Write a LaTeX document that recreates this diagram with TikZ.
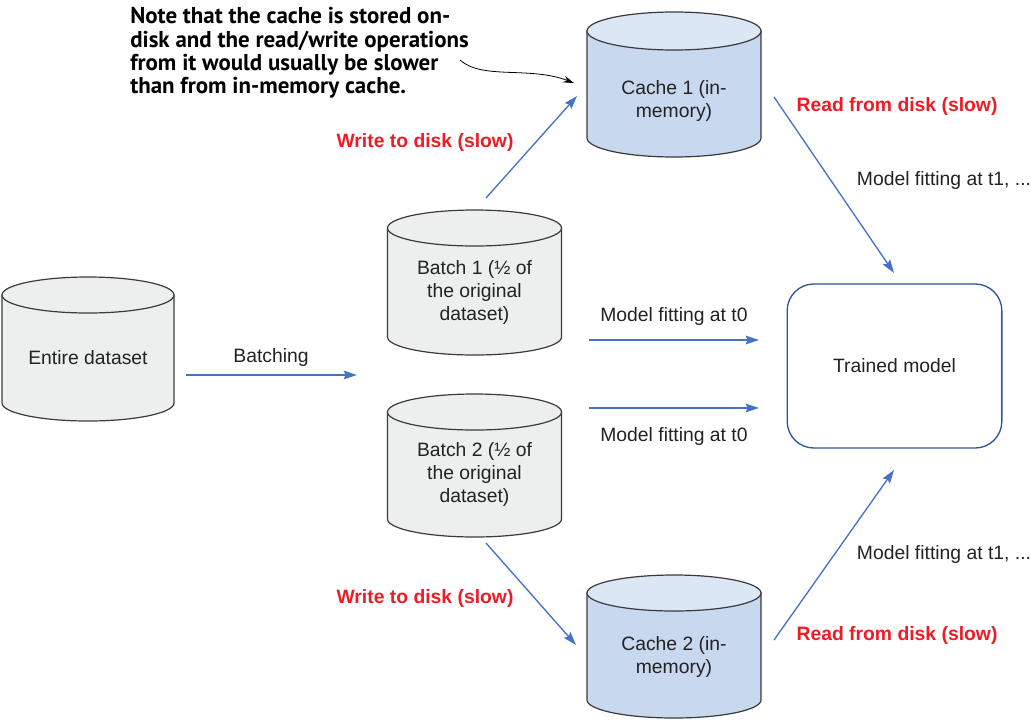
\documentclass[tikz,border=0pt]{standalone}
\usepackage{fontspec}
\setmainfont{Liberation Sans}
\newfontfamily\notefont{PT Sans}
\usetikzlibrary{arrows.meta}
\definecolor{cylgrey}{HTML}{EDEFEE}
\definecolor{cylblue}{HTML}{C8D8EE}
\definecolor{cyltop}{HTML}{DCE7F6}
\definecolor{cylline}{HTML}{3A3A3A}
\definecolor{arrblue}{HTML}{4472C4}
\definecolor{boxblue}{HTML}{2E5597}
\definecolor{warnred}{HTML}{ED1C24}
\definecolor{txt}{HTML}{222222}
\newcommand\cylshape[7]{%
  \filldraw[cylstroke, fill=#6] (#1-#4,#2) -- (#1-#4,#3)
    .. controls (#1-#4,#3+0.5523*#5) and (#1-0.5523*#4,#3+#5) .. (#1,#3+#5)
    .. controls (#1+0.5523*#4,#3+#5) and (#1+#4,#3+0.5523*#5) .. (#1+#4,#3)
    -- (#1+#4,#2) -- cycle;
  \filldraw[cylstroke, fill=#7] (#1,#2) ellipse[x radius=#4*0.75pt, y radius=#5*0.75pt];
}
\begin{document}
\begin{tikzpicture}[x=0.75pt,y=-0.75pt,
  cylstroke/.style={draw=cylline, line width=0.9pt},
  body/.style={font=\fontsize{14.5}{17.25}\selectfont, text=txt, align=center, inner sep=0pt},
  redlbl/.style={font=\bfseries\fontsize{14.5}{17.25}\selectfont, text=warnred, inner sep=0pt},
  flow/.style={draw=arrblue, line width=1pt, -{Stealth[length=10pt,width=6.5pt,inset=1.5pt]}},
  notearrow/.style={draw=black, line width=0.6pt, -{Stealth[length=8pt,width=5pt]}}
]
\useasboundingbox (0,0) rectangle (1031,722);

% cylinders
\cylshape{88}{295}{403}{86}{18}{cylgrey}{cylgrey}
\cylshape{474.5}{228}{337}{87}{18}{cylgrey}{cylgrey}
\cylshape{474.5}{412}{519}{87}{18}{cylgrey}{cylgrey}
\cylshape{674}{31}{138}{87}{19}{cylblue}{cyltop}
\cylshape{674}{593}{700}{87}{18}{cylblue}{cyltop}

% texts in shapes
\node[body] (ent) at (88,358) {Entire dataset};
\node[body] (b1) at (474.5,292) {Batch 1 (½ of\\the original\\dataset)};
\node[body] (b2) at (474.5,474) {Batch 2 (½ of\\the original\\dataset)};
\node[body] (c1) at (674,101) {Cache 1 (in-\\memory)};
\node[body] (c2) at (674,657) {Cache 2 (in-\\memory)};
\node[body, draw=boxblue, line width=1pt, rounded corners=20pt,
  minimum width=161pt, minimum height=123pt] (tm) at (894.5,366) {Trained model};

% note
\node[anchor=north west, align=left, inner sep=0pt, text=black,
  font=\notefont\bfseries\fontsize{17.2}{17.6}\selectfont] (note) at (130,7)
  {Note that the cache is stored on-\\disk and the read/write operations\\from it would usually be slower\\than from in-memory cache.};

% labels
\node[body] (lbatch) at (271,357) {Batching};
\node[redlbl] (lw1) at (425,142) {Write to disk (slow)};
\node[redlbl] (lw2) at (425,598) {Write to disk (slow)};
\node[redlbl] (lr1) at (897,106) {Read from disk (slow)};
\node[redlbl] (lr2) at (897,635) {Read from disk (slow)};
\node[body] (lm1) at (944,180) {Model fitting at t1, ...};
\node[body] (lm2) at (944,554) {Model fitting at t1, ...};
\node[body] (lt1) at (674,316) {Model fitting at t0};
\node[body] (lt2) at (674,436) {Model fitting at t0};

% connector ends
\coordinate (batchS) at (186,375);
\coordinate (batchE) at (357,375);
\coordinate (b1up) at (486,198);
\coordinate (c1in) at (577,96);
\coordinate (c1out) at (774,97);
\coordinate (tmtop) at (894,273);
\coordinate (b1r) at (589,340);
\coordinate (tmL1) at (759,340);
\coordinate (b2r) at (589,408);
\coordinate (tmL2) at (759,408);
\coordinate (b2dn) at (486,543);
\coordinate (c2in) at (576,645);
\coordinate (c2out) at (774,640);
\coordinate (tmbot) at (894,470);
\coordinate (noteS) at (460,60);
\coordinate (noteE) at (574,83);

\draw[flow] (batchS) -- (batchE);
\draw[flow] (b1up) -- (c1in);
\draw[flow] (c1out) -- (tmtop);
\draw[flow] (b1r) -- (tmL1);
\draw[flow] (b2r) -- (tmL2);
\draw[flow] (b2dn) -- (c2in);
\draw[flow] (c2out) -- (tmbot);
\draw[notearrow] (noteS) .. controls (482,80) and (530,66) .. (noteE);
\end{tikzpicture}
\end{document}
